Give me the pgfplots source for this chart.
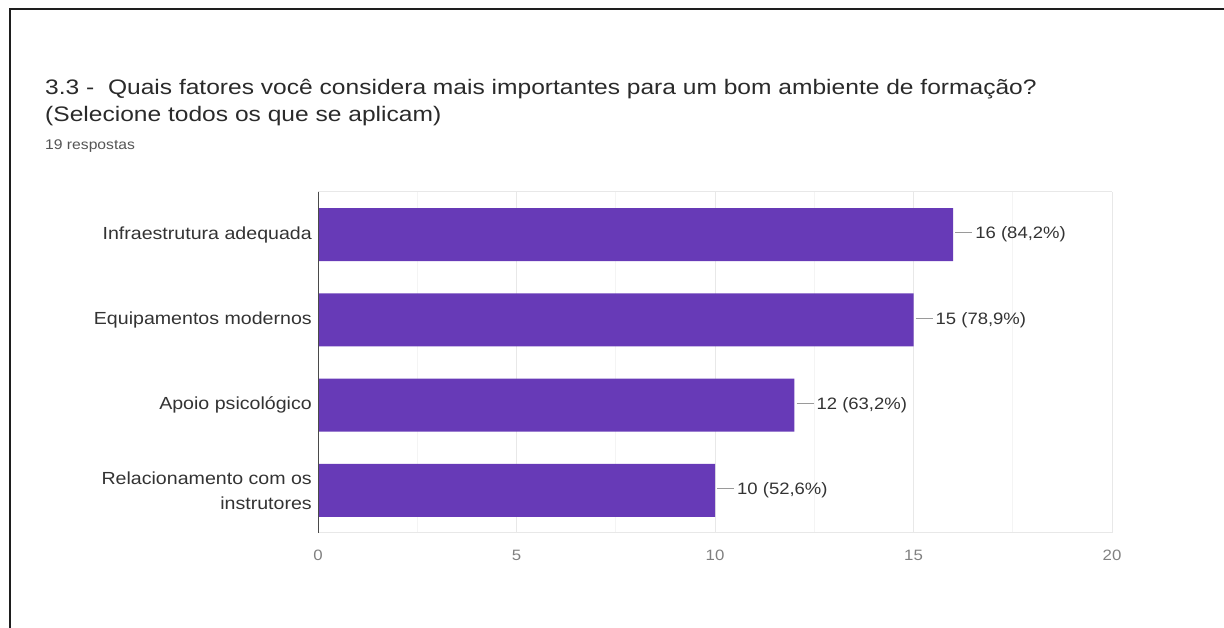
\documentclass[border=0pt]{standalone}
\usepackage{fontspec}
\setmainfont{Liberation Sans}[FakeStretch=1.12]
\newfontfamily\titlefont{Liberation Sans}[FakeStretch=1.17]
\usepackage{pgfplots}
\pgfplotsset{compat=1.18}
\definecolor{barpurple}{HTML}{673AB7}
\definecolor{framecol}{HTML}{1E1E1E}
\definecolor{titlecol}{HTML}{2A2A2A}
\definecolor{subcol}{HTML}{555555}
\definecolor{labelcol}{HTML}{333333}
\definecolor{tickcol}{HTML}{808080}
\definecolor{gridcol}{HTML}{E8E8E8}
\definecolor{minorgridcol}{HTML}{F4F4F4}
\definecolor{axiscol}{HTML}{4A4A4A}
\definecolor{connector}{HTML}{9A9A9A}
\begin{document}
\begin{tikzpicture}
\path[use as bounding box] (0pt,0pt) rectangle (1224pt,628pt);
\draw[line width=2pt, color=framecol] (9.5pt,0pt) -- (9.5pt,618.5pt) -- (1224pt,618.5pt);
\node[anchor=base west, inner sep=0pt, text=titlecol, font=\titlefont\fontsize{21}{26}\selectfont] at (45pt,533pt) {3.3 -\ \ Quais fatores você considera mais importantes para um bom ambiente de formação?};
\node[anchor=base west, inner sep=0pt, text=titlecol, font=\titlefont\fontsize{21}{26}\selectfont] at (45pt,506pt) {(Selecione todos os que se aplicam)};
\node[anchor=base west, inner sep=0pt, text=subcol, font=\fontsize{14}{17}\selectfont] at (45pt,478pt) {19 respostas};
\begin{axis}[
  at={(318pt,95pt)}, anchor=south west,
  scale only axis, width=794pt, height=341pt,
  xbar, bar width=53pt,
  xmin=0, xmax=20, ymin=-0.5, ymax=3.5, y dir=reverse,
  ytick={0,1,2,3},
  yticklabels={Infraestrutura adequada, Equipamentos modernos, Apoio psicológico, {Relacionamento com os\\instrutores}},
  yticklabel style={align=right, font=\fontsize{17.5}{25}\selectfont, text=labelcol, inner sep=0pt, xshift=-6pt},
  xtick={0,5,10,15,20}, minor xtick={2.5,7.5,12.5,17.5},
  xmajorgrids, xminorgrids,
  major grid style={draw=gridcol, line width=1pt},
  minor grid style={draw=minorgridcol, line width=1pt},
  major tick length=0pt, minor tick length=0pt,
  axis line style={draw=none},
  /pgf/number format/assume math mode=true,
  xticklabel style={anchor=center, yshift=-22pt, font=\fontsize{15}{18}\selectfont, text=tickcol},
  point meta=explicit symbolic,
  nodes near coords={\textcolor{connector}{\rule[0.33em]{17pt}{1pt}}\hspace{3pt}\pgfplotspointmeta},
  nodes near coords style={anchor=west, inner sep=0pt, xshift=2pt, font=\fontsize{16.5}{20}\selectfont, text=labelcol},
]
\addplot[fill=barpurple, draw=none] coordinates {
  (16,0) [16 (84,2\%)]
  (15,1) [15 (78,9\%)]
  (12,2) [12 (63,2\%)]
  (10,3) [10 (52,6\%)]
};
\draw[gridcol, line width=1pt] (axis cs:0,-0.5) -- (axis cs:20,-0.5);
\draw[gridcol, line width=1pt] (axis cs:0,3.5) -- (axis cs:20,3.5);
\draw[axiscol, line width=1.5pt] (axis cs:0,-0.5) -- (axis cs:0,3.5);
\end{axis}
\end{tikzpicture}
\end{document}
